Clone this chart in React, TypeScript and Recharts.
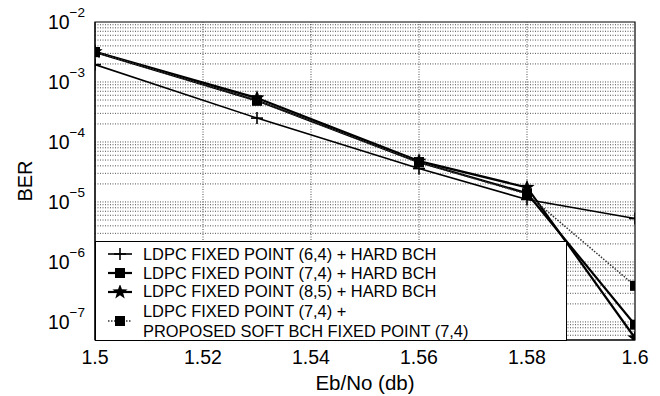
import { LineChart, Line, XAxis, YAxis, ReferenceLine, ReferenceArea, Legend } from "recharts";

// Eb/No points (db)
const ebno = [1.5, 1.53, 1.56, 1.58, 1.6];

// BER per decoder configuration
const ldpc64Hard = [1.95e-3, 2.5e-4, 3.6e-5, 1.1e-5, 5.3e-6];
const ldpc74Hard = [3.15e-3, 4.9e-4, 4.6e-5, 1.4e-5, 9e-8];
const ldpc85Hard = [3.2e-3, 5.4e-4, 4.8e-5, 1.75e-5, 5.4e-8];
const ldpc74Soft = [3.15e-3, 4.9e-4, 4.6e-5, 1.35e-5, 4e-7];

const xTicks = [1.5, 1.52, 1.54, 1.56, 1.58, 1.6];
const yTicks = [1e-7, 1e-6, 1e-5, 1e-4, 1e-3, 1e-2];
const decades = [1e-8, 1e-7, 1e-6, 1e-5, 1e-4, 1e-3];

const legendNames = [
  ["LDPC FIXED POINT (6,4) + HARD BCH"],
  ["LDPC FIXED POINT (7,4) + HARD BCH"],
  ["LDPC FIXED POINT (8,5) + HARD BCH"],
  ["LDPC FIXED POINT (7,4) +", "PROPOSED SOFT BCH FIXED POINT (7,4)"],
];

const Y_MIN = 5e-8;
const Y_MAX = 1e-2;
const FONT = "'Liberation Sans', Arial, Helvetica, sans-serif";
const GRID = { stroke: "#222", strokeDasharray: "1 1.5", strokeWidth: 0.8 };

const data = ebno.map((x, i) => ({
  x,
  s64: ldpc64Hard[i],
  s74: ldpc74Hard[i],
  s85: ldpc85Hard[i],
  soft: ldpc74Soft[i],
}));

// minor + major grid lines of the log axis
const gridValues: number[] = [];
decades.forEach((d) => {
  for (let k = 1; k <= 9; k++) {
    const v = k * d;
    if (v > Y_MIN && v < Y_MAX) gridValues.push(v);
  }
});

function starPath(cx: number, cy: number, ro: number, ri: number) {
  let p = "";
  for (let i = 0; i < 10; i++) {
    const r = i % 2 === 0 ? ro : ri;
    const a = -Math.PI / 2 + (i * Math.PI) / 5;
    p += (i === 0 ? "M" : "L") + (cx + r * Math.cos(a)).toFixed(2) + "," + (cy + r * Math.sin(a)).toFixed(2);
  }
  return p + "Z";
}

const PlusDot = (props: any) => {
  const { cx, cy } = props;
  if (cx == null || cy == null) return null;
  return (
    <g stroke="#000" strokeWidth={1.6}>
      <line x1={cx - 6} y1={cy} x2={cx + 6} y2={cy} />
      <line x1={cx} y1={cy - 6} x2={cx} y2={cy + 6} />
    </g>
  );
};

const SquareDot = (props: any) => {
  const { cx, cy } = props;
  if (cx == null || cy == null) return null;
  return <rect x={cx - 5} y={cy - 5} width={10} height={10} fill="#000" />;
};

const StarDot = (props: any) => {
  const { cx, cy } = props;
  if (cx == null || cy == null) return null;
  return <path d={starPath(cx, cy, 8, 3.3)} fill="#000" />;
};

const PowTick = (props: any) => {
  const { x, y, payload } = props;
  const exp = Math.round(Math.log10(payload.value));
  return (
    <text x={x} y={y} textAnchor="end" fontFamily={FONT} fill="#000">
      <tspan fontSize={19.5} dy={7}>10</tspan>
      <tspan fontSize={13.5} dy={-12}>{"\u2212" + -exp}</tspan>
    </text>
  );
};

const BerLabel = (props: any) => {
  const { viewBox } = props;
  if (!viewBox) return null;
  const cx = 25;
  const cy = viewBox.y + viewBox.height / 2;
  return (
    <text
      x={cx}
      y={cy}
      transform={`rotate(-90 ${cx} ${cy})`}
      textAnchor="middle"
      dominantBaseline="central"
      fontSize={20}
      fontFamily={FONT}
      fill="#000"
    >
      BER
    </text>
  );
};

function LegendIcon({ kind }: { kind: number }) {
  const cy = 7;
  const line =
    kind === 3 ? (
      <line x1={0} y1={cy} x2={24} y2={cy} stroke="#333" strokeWidth={1.5} strokeDasharray="1.5 1.5" />
    ) : (
      <line x1={0} y1={cy} x2={24} y2={cy} stroke="#000" strokeWidth={kind === 0 ? 1.6 : 2.2} />
    );
  let marker = null;
  if (kind === 0) marker = <PlusDot cx={12} cy={cy} />;
  else if (kind === 2) marker = <StarDot cx={12} cy={cy} />;
  else marker = <SquareDot cx={12} cy={cy} />;
  return (
    <svg width={24} height={14} style={{ display: "block" }}>
      {line}
      {marker}
    </svg>
  );
}

const renderLegend = () => (
  <div
    style={{
      boxSizing: "border-box",
      width: 472,
      height: 100,
      background: "#fff",
      border: "1px solid #000",
      padding: "3px 0 0 12px",
      fontFamily: FONT,
      fontSize: 16.4,
      color: "#000",
    }}
  >
    {legendNames.map((lines, i) => (
      <div key={i} style={{ display: "flex", alignItems: "center", lineHeight: "18.7px" }}>
        <div style={{ width: 35 }}>
          <LegendIcon kind={i} />
        </div>
        <div>
          {lines.map((t, j) => (
            <div key={j} style={{ whiteSpace: "nowrap", lineHeight: j === 0 && lines.length > 1 ? "21px" : "18.7px" }}>
              {t}
            </div>
          ))}
        </div>
      </div>
    ))}
  </div>
);

export default function App() {
  return (
    <div style={{ position: "absolute", left: 0, top: 0, width: 660, height: 396, background: "#fff" }}>
      <LineChart width={660} height={396} data={data} margin={{ top: 22, right: 25, bottom: 0, left: 0 }}>
        <XAxis
          dataKey="x"
          type="number"
          domain={[1.5, 1.6]}
          ticks={xTicks}
          allowDataOverflow
          tickFormatter={(v: number) => String(v)}
          tick={{ fontSize: 19.5, fontFamily: FONT, fill: "#000" }}
          tickLine={false}
          tickSize={8}
          tickMargin={2}
          axisLine={{ stroke: "#000" }}
          height={56}
          label={{ value: "Eb/No (db)", position: "insideBottom", offset: 6, fontSize: 20.5, fontFamily: FONT, fill: "#000" }}
        />
        <YAxis
          type="number"
          scale="log"
          domain={[Y_MIN, Y_MAX]}
          ticks={yTicks}
          allowDataOverflow
          tick={<PowTick />}
          tickLine={false}
          tickSize={8}
          tickMargin={2}
          axisLine={{ stroke: "#000" }}
          width={95}
          label={<BerLabel />}
        />
        {gridValues.map((v) => (
          <ReferenceLine key={`h${v}`} y={v} {...GRID} />
        ))}
        {xTicks.slice(1, -1).map((v) => (
          <ReferenceLine key={`v${v}`} x={v} {...GRID} />
        ))}
        <ReferenceArea x1={1.5} x2={1.6} y1={Y_MIN} y2={Y_MAX} fill="none" stroke="#000" strokeWidth={1.2} />
        <Line type="linear" dataKey="s64" stroke="#000" strokeWidth={1.6} dot={<PlusDot />} isAnimationActive={false} />
        <Line type="linear" dataKey="s74" stroke="#000" strokeWidth={2.2} dot={<SquareDot />} isAnimationActive={false} />
        <Line type="linear" dataKey="s85" stroke="#000" strokeWidth={2.2} dot={<StarDot />} isAnimationActive={false} />
        <Line
          type="linear"
          dataKey="soft"
          stroke="#333"
          strokeWidth={1.5}
          strokeDasharray="1.5 1.5"
          dot={<SquareDot />}
          isAnimationActive={false}
        />
        <Legend
          layout="horizontal"
          verticalAlign="middle"
          align="center"
          content={renderLegend}
          wrapperStyle={{ left: 95, top: 241, width: 472, height: 100, bottom: "auto", right: "auto" }}
        />
      </LineChart>
    </div>
  );
}
